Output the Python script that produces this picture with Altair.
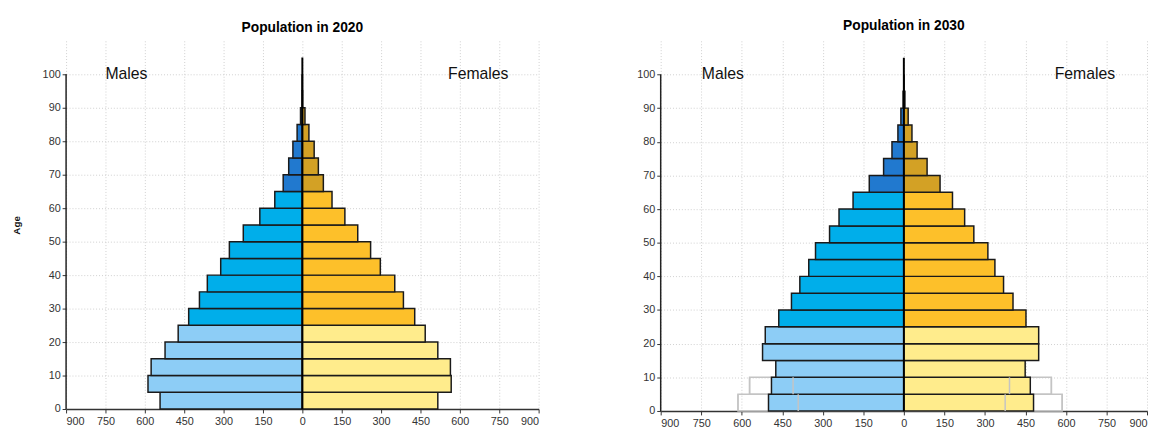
import altair as alt
import pandas as pd

# ---------------- data (thousands) ----------------
ages = list(range(0, 100, 5))
males_2020 = [542, 588, 576, 523, 473, 433, 392, 362, 311, 278, 225, 162, 105, 73, 52, 36, 20, 7, 1, 0]
females_2020 = [516, 567, 564, 516, 468, 428, 385, 352, 297, 260, 211, 162, 113, 80, 61, 45, 25, 10, 1, 0]
males_2030 = [501, 490, 474, 523, 513, 463, 416, 385, 352, 327, 275, 240, 188, 128, 75, 44, 22, 11, 3, 0]
females_2030 = [480, 468, 449, 499, 499, 452, 404, 369, 337, 311, 259, 225, 180, 134, 86, 49, 30, 16, 4, 0]

# projection range outlines for the youngest cohorts in 2030
ghost_ages = [0, 5]
ghost_outer_m = [614, 571]
ghost_outer_f = [586, 546]
ghost_inner_m = [391, 410]
ghost_inner_f = [375, 391]

x_ticks = list(range(-900, 901, 150))
y_ticks = list(range(0, 101, 10))
X_MIN, X_MAX = -900, 900
Y_MAX = 110
CENTER_TOP = 105
AXIS_TOP = 100

group_domain = ["m_young", "m_mid", "m_old", "f_young", "f_mid", "f_old"]
group_range = ["#8DCDF6", "#00AEEA", "#2179CF", "#FFEC8C", "#FDC02A", "#D3A125"]

FONT = "Liberation Sans"


def group_of(sex, age):
    band = "young" if age < 25 else ("mid" if age < 65 else "old")
    return f"{sex}_{band}"


def make_panel(title, males, females, width, height, y_title=None, ghosts=None, title_offset=6):
    rows = []
    for a, m, f in zip(ages, males, females):
        rows.append({"age": a, "age_end": a + 5, "value": -m, "zero": 0, "group": group_of("m", a)})
        rows.append({"age": a, "age_end": a + 5, "value": f, "zero": 0, "group": group_of("f", a)})
    df = pd.DataFrame(rows)

    x_scale = alt.Scale(domain=[X_MIN, X_MAX], nice=False, zero=False)
    y_scale = alt.Scale(domain=[0, Y_MAX], nice=False)

    x_axis = alt.Axis(values=x_ticks, labelExpr="abs(datum.value)", title=None,
                      grid=True, gridDash=[1, 2], gridColor="#cfcfcf",
                      domainColor="#333333", domainWidth=1.5, tickColor="#333333",
                      tickSize=4, labelFontSize=11, labelColor="#333333", labelFont=FONT,
                      labelPadding=3)
    y_axis = alt.Axis(values=y_ticks, title=y_title, grid=True, gridDash=[1, 2],
                      gridColor="#cfcfcf", domain=False, tickColor="#333333", tickSize=4,
                      labelFontSize=11, labelColor="#333333", labelFont=FONT,
                      titleFont=FONT, titleFontSize=10, titleFontWeight="bold",
                      titleColor="#111111", titlePadding=21)

    base_x = alt.X("value:Q", scale=x_scale, axis=x_axis)
    base_y = alt.Y("age:Q", scale=y_scale, axis=y_axis)

    layers = []

    if ghosts is not None:
        g_rows = []
        for a, om, of, im, inf in zip(ghost_ages, *ghosts):
            for v in (-om, of, -im, inf):
                g_rows.append({"age": a, "age_end": a + 5, "value": v, "zero": 0})
        gdf = pd.DataFrame(g_rows)
        layers.append(
            alt.Chart(gdf).mark_rect(fill=None, stroke="#c4c4c4", strokeWidth=1.5).encode(
                x=base_x, x2="zero:Q", y=base_y, y2="age_end:Q")
        )

    layers.append(
        alt.Chart(df).mark_rect(stroke="#1a1a1a", strokeWidth=1.5).encode(
            x=base_x, x2="zero:Q", y=base_y, y2="age_end:Q",
            color=alt.Color("group:N", scale=alt.Scale(domain=group_domain, range=group_range), legend=None),
        )
    )

    if ghosts is not None:
        layers.append(
            alt.Chart(gdf).mark_rule(stroke="#c4c4c4", strokeWidth=1.5).encode(
                x=base_x, y=base_y, y2="age_end:Q")
        )

    # centre line
    layers.append(
        alt.Chart(pd.DataFrame({"value": [0], "age": [0], "top": [CENTER_TOP]}))
        .mark_rule(color="#000000", strokeWidth=2)
        .encode(x=base_x, y=base_y, y2="top:Q")
    )
    # y axis line (0-100)
    layers.append(
        alt.Chart(pd.DataFrame({"value": [X_MIN], "age": [0], "top": [AXIS_TOP]}))
        .mark_rule(color="#222222", strokeWidth=1.5)
        .encode(x=base_x, y=base_y, y2="top:Q")
    )
    # sex labels
    layers.append(
        alt.Chart(pd.DataFrame({"label": ["Males", "Females"], "value": [-670, 670], "age": [100, 100]}))
        .mark_text(font=FONT, fontSize=16, color="#111111", baseline="middle")
        .encode(x=base_x, y=base_y, text="label:N")
    )

    return alt.layer(*layers).properties(
        width=width, height=height,
        title=alt.TitleParams(title, font=FONT, fontSize=14, fontWeight="bold", color="#000000",
                              offset=title_offset),
    )


left = make_panel("Population in 2020", males_2020, females_2020, 480, 374, y_title="Age")
right = make_panel("Population in 2030", males_2030, females_2030, 494, 376,
                   ghosts=(ghost_outer_m, ghost_outer_f, ghost_inner_m, ghost_inner_f),
                   title_offset=8)

chart = alt.hconcat(left, right, spacing=98).configure_view(stroke=None).properties(
    padding={"left": 3, "top": 8, "right": 0, "bottom": 0}
)

chart.save("out.html", embed_options={"renderer": "svg", "actions": False})
